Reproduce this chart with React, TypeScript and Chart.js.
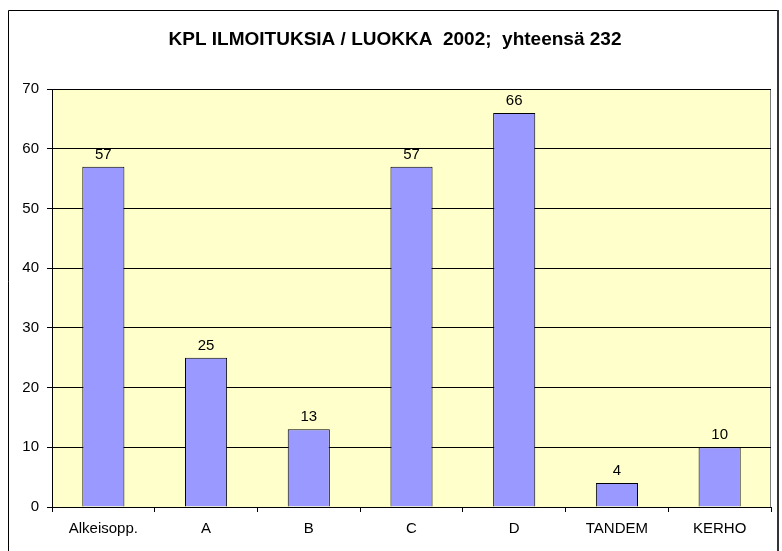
import React, { useEffect, useRef } from "react";
import { Chart, registerables } from "chart.js";

Chart.register(...registerables);

const TITLE = "KPL ILMOITUKSIA / LUOKKA  2002;  yhteensä 232";
const categories = ["Alkeisopp.", "A", "B", "C", "D", "TANDEM", "KERHO"];
const values = [57, 25, 13, 57, 66, 4, 10];
const yTicks = [0, 10, 20, 30, 40, 50, 60, 70];

const FONT = "'Liberation Sans', Arial, sans-serif";

const decorPlugin = {
  id: "decor",
  beforeDraw(chart: any) {
    const { ctx, chartArea: a } = chart;
    ctx.save();
    ctx.fillStyle = "#ffffff";
    ctx.fillRect(0, 0, chart.width, chart.height);
    // outer frame
    ctx.strokeStyle = "#000000";
    ctx.lineWidth = 1;
    ctx.beginPath();
    ctx.moveTo(8.5, chart.height + 2);
    ctx.lineTo(8.5, 10.5);
    ctx.lineTo(777.5, 10.5);
    ctx.stroke();
    ctx.fillStyle = "#333333";
    ctx.fillRect(777, 10, 2, chart.height);
    // plot area
    ctx.fillStyle = "#FFFFCC";
    ctx.fillRect(a.left, a.top, a.right - a.left, a.bottom - a.top);
    ctx.strokeStyle = "#808080";
    ctx.strokeRect(a.left + 0.5, a.top + 0.5, a.right - a.left - 1, a.bottom - a.top);
    // title
    ctx.fillStyle = "#000000";
    ctx.font = `bold 19px ${FONT}`;
    ctx.textAlign = "center";
    ctx.textBaseline = "alphabetic";
    ctx.fillText(TITLE, 395, 45);
    ctx.restore();
  },
  afterDatasetsDraw(chart: any) {
    const { ctx } = chart;
    const meta = chart.getDatasetMeta(0);
    ctx.save();
    ctx.fillStyle = "#000000";
    ctx.font = `15px ${FONT}`;
    ctx.textAlign = "center";
    ctx.textBaseline = "alphabetic";
    meta.data.forEach((bar: any, i: number) => {
      ctx.fillText(String(values[i]), bar.x, bar.y - 8);
    });
    ctx.restore();
  },
};

export default function App() {
  const ref = useRef<HTMLCanvasElement | null>(null);
  useEffect(() => {
    if (!ref.current) return;
    const chart = new Chart(ref.current, {
      type: "bar",
      data: {
        labels: categories,
        datasets: [
          {
            data: values,
            backgroundColor: "#9999FF",
            borderColor: "#000000",
            borderWidth: 1,
            categoryPercentage: 1,
            barPercentage: 0.41,
          },
        ],
      },
      options: {
        responsive: false,
        animation: false,
        devicePixelRatio: 1,
        layout: { padding: { left: 0, top: 89, right: 11, bottom: 0 } },
        plugins: {
          legend: { display: false },
          tooltip: { enabled: false },
          title: { display: false },
        },
        scales: {
          x: {
            afterFit(scale: any) {
              scale.height = 44;
            },
            grid: {
              offset: true,
              drawOnChartArea: false,
              drawTicks: true,
              tickLength: 5,
              color: "#000000",
              tickColor: "#000000",
            },
            border: { display: true, color: "#000000" },
            ticks: {
              color: "#000000",
              font: { family: FONT, size: 15 },
              padding: 8,
              maxRotation: 0,
              autoSkip: false,
            },
          },
          y: {
            min: 0,
            max: 70,
            afterFit(scale: any) {
              scale.width = 52;
            },
            afterBuildTicks(scale: any) {
              scale.ticks = yTicks.map((v) => ({ value: v }));
            },
            grid: {
              color: "#000000",
              tickColor: "#000000",
              tickLength: 5,
              drawTicks: true,
            },
            border: { display: true, color: "#000000" },
            ticks: {
              color: "#000000",
              font: { family: FONT, size: 15 },
              padding: 8,
            },
          },
        },
      },
      plugins: [decorPlugin],
    });
    return () => chart.destroy();
  }, []);
  return (
    <div style={{ position: "fixed", left: 0, top: 0, width: 782, height: 551 }}>
      <canvas ref={ref} width={782} height={551} style={{ display: "block", width: 782, height: 551 }} />
    </div>
  );
}
